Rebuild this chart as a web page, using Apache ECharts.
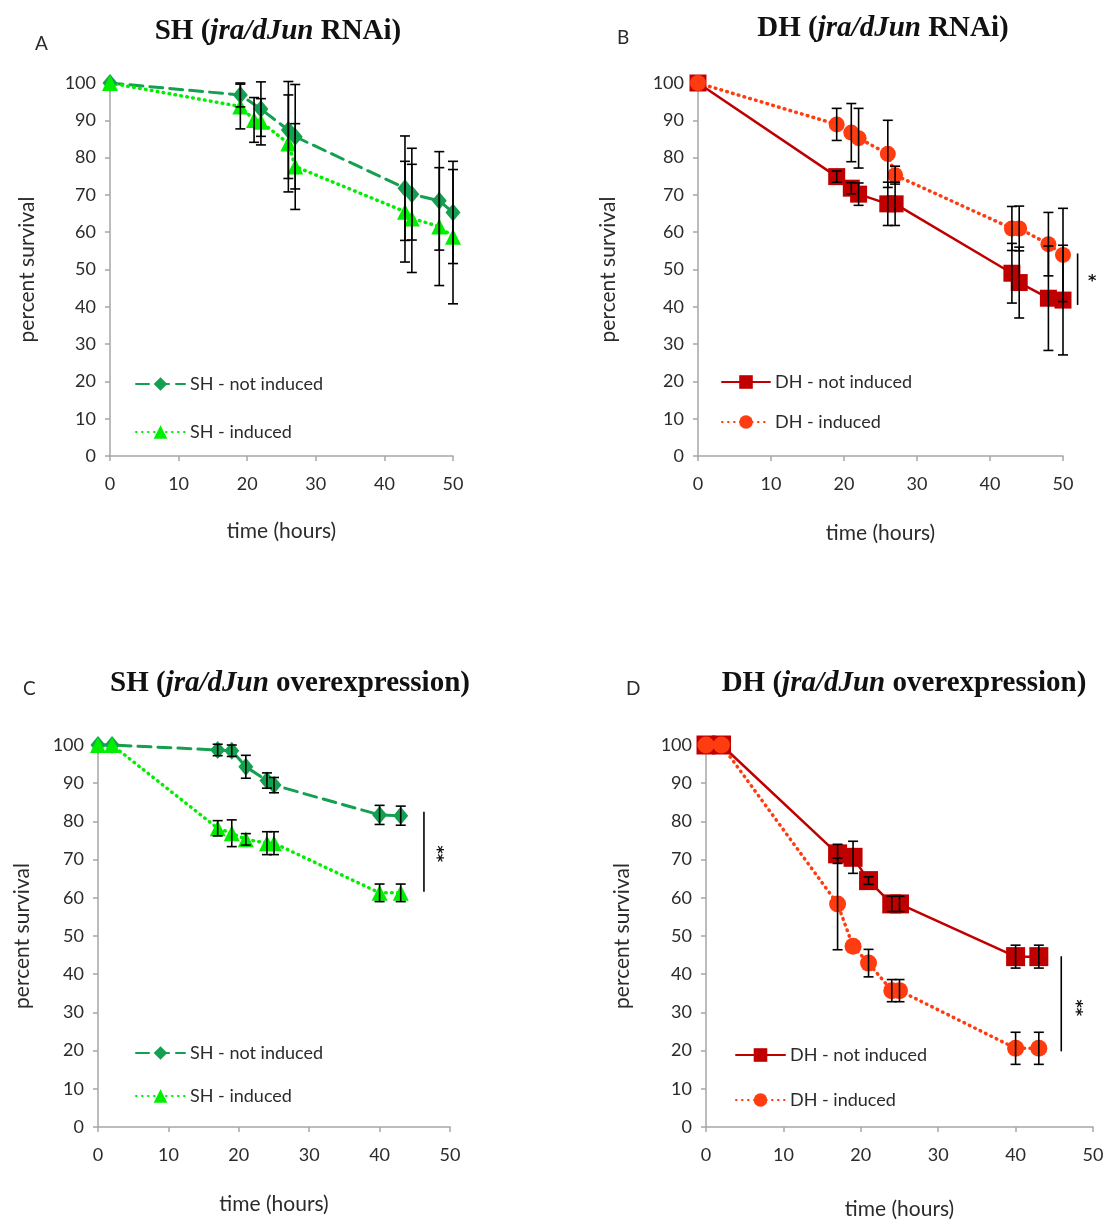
<!DOCTYPE html>
<html>
<head>
<meta charset="utf-8">
<script src="https://cdn.jsdelivr.net/npm/echarts@6/dist/echarts.min.js"></script>
<style>
html,body{margin:0;padding:0;background:#fff;}
#chart{width:1107px;height:1224px;}
</style>
</head>
<body>
<div id="chart"></div>
<script>
// ---------- DATA ----------
const xTicks = [0, 10, 20, 30, 40, 50];
const yTicks = [0, 10, 20, 30, 40, 50, 60, 70, 80, 90, 100];

// Panel A : SH (jra/dJun RNAi)
const A_ni_t   = [0, 19, 22, 26, 27, 43, 44, 48, 50];
const A_ni_v   = [100, 96.8, 93, 87.4, 85.6, 71.8, 70.2, 68.4, 65.3];
const A_ni_err = [0, 3.2, 7.3, 13, 14, 14, 12.3, 13.2, 13.7];
const A_in_t   = [0, 19, 21, 22, 26, 27, 43, 44, 48, 50];
const A_in_v   = [100, 93.7, 90.1, 89.6, 83.8, 77.6, 65.5, 63.7, 61.5, 58.8];
const A_in_err = [0, 6, 6, 6.2, 13, 11.5, 13.5, 14.5, 15.8, 18];

// Panel B : DH (jra/dJun RNAi)
const B_ni_t   = [0, 19, 21, 22, 26, 27, 43, 44, 48, 50];
const B_ni_v   = [100, 74.9, 71.8, 70.2, 67.6, 67.6, 49, 46.5, 42.3, 41.8];
const B_ni_err = [0, 1.5, 1.5, 3, 5.8, 5.8, 8, 9.5, 14, 14.7];
const B_in_t   = [0, 19, 21, 22, 26, 27, 43, 44, 48, 50];
const B_in_v   = [100, 88.9, 86.7, 85.2, 81, 75.3, 61, 61, 56.8, 53.9];
const B_in_err = [0, 4.3, 7.8, 8, 9, 2.4, 5.9, 6, 8.5, 12.5];
const B_sig    = [52.0, 40.5, 54.3];   // x, low, high
const B_sigLbl = [54.0, 46.6];

// Panel C : SH (jra/dJun overexpression)
const C_ni_t   = [0, 2, 17, 19, 21, 24, 25, 40, 43];
const C_ni_v   = [100, 100, 98.7, 98.5, 94.3, 90.7, 89.5, 81.7, 81.5];
const C_ni_err = [0, 0, 1.5, 1.5, 3, 2, 2, 2.5, 2.5];
const C_in_t   = [0, 2, 17, 19, 21, 24, 25, 40, 43];
const C_in_v   = [100, 100, 78.2, 76.9, 75.3, 74.3, 74.3, 61.3, 61.3];
const C_in_err = [0, 0, 2, 3.5, 1.5, 3, 3, 2.3, 2.3];
const C_sig    = [46.3, 61.6, 82.5];
const C_sigLbl = [48.1, 71.5];

// Panel D : DH (jra/dJun overexpression)
const D_ni_t   = [0, 2, 17, 19, 21, 24, 25, 40, 43];
const D_ni_v   = [100, 100, 71.5, 70.6, 64.5, 58.4, 58.4, 44.6, 44.6];
const D_ni_err = [0, 0, 2.5, 4.2, 1, 2, 2, 3, 3];
const D_in_t   = [0, 2, 17, 19, 21, 24, 25, 40, 43];
const D_in_v   = [100, 100, 58.4, 47.3, 42.9, 35.7, 35.7, 20.6, 20.6];
const D_in_err = [0, 0, 12, 0, 3.6, 2.9, 2.9, 4.2, 4.2];
const D_sig    = [45.9, 19.8, 44.7];
const D_sigLbl = [47.7, 31.2];

// ---------- STYLE ----------
const FONT = 'Lato, "Open Sans", sans-serif';
const TXT = '#2b2b2b';
const AXC = '#a6a6a6';
const darkGreen = '#14A050';
const limeGreen = '#00EE00';
const darkRed = '#C00000';
const orangeRed = '#FF3B10';
const DOT = [0.6, 5.4];
const DASH = [13, 7];

const panels = [
  {grid:{left:110, top:83, width:343, height:373}, yGap:72, xGap:65},
  {grid:{left:698, top:83, width:365, height:373}, yGap:79, xGap:67},
  {grid:{left:98, top:745, width:352, height:382}, yGap:65, xGap:67},
  {grid:{left:706, top:745, width:387, height:382}, yGap:73, xGap:72}
];

function zip(t, v, e) { return t.map((x, i) => e ? [x, v[i], e[i]] : [x, v[i]]); }

const grids = [], xAxes = [], yAxes = [], series = [];
panels.forEach((p, i) => {
  grids.push(Object.assign({}, p.grid));
  xAxes.push({
    gridIndex: i, type: 'value', min: xTicks[0], max: xTicks[xTicks.length-1], interval: 10,
    name: 'time (hours)', nameLocation: 'middle', nameGap: p.xGap,
    nameTextStyle: {fontFamily: FONT, fontSize: 21, color: TXT},
    axisLine: {show: true, lineStyle: {color: AXC, width: 1.5}},
    axisTick: {show: true, inside: false, length: 5, lineStyle: {color: AXC, width: 1.5}},
    axisLabel: {fontFamily: FONT, fontSize: 18, color: TXT, margin: 19},
    splitLine: {show: false}
  });
  yAxes.push({
    gridIndex: i, type: 'value', min: yTicks[0], max: yTicks[yTicks.length-1], interval: 10,
    name: 'percent survival', nameLocation: 'middle', nameGap: p.yGap,
    nameTextStyle: {fontFamily: FONT, fontSize: 21, color: TXT},
    axisLine: {show: true, lineStyle: {color: AXC, width: 1.5}},
    axisTick: {show: true, inside: false, length: 5, lineStyle: {color: AXC, width: 1.5}},
    axisLabel: {fontFamily: FONT, fontSize: 18, color: TXT, margin: 14},
    splitLine: {show: false}
  });
});

function lineSeries(name, idx, data, color, lineType, width, symbol, size) {
  return {
    name: name, type: 'line', xAxisIndex: idx, yAxisIndex: idx, data: data,
    symbol: symbol, symbolSize: size, showSymbol: true, clip: false,
    lineStyle: {color: color, width: width, type: lineType, cap: 'round'},
    itemStyle: {color: color}, z: 3, animation: false
  };
}
function errRender(params, api) {
  const t = api.value(0), v = api.value(1), e = api.value(2);
  if (!e) return {type: 'group', children: []};
  const a = api.coord([t, v + e]), b = api.coord([t, v - e]);
  const w = 5, st = {stroke: '#000', lineWidth: 1.6};
  return {type: 'group', children: [
    {type: 'line', shape: {x1: a[0], y1: a[1], x2: b[0], y2: b[1]}, style: st},
    {type: 'line', shape: {x1: a[0]-w, y1: a[1], x2: a[0]+w, y2: a[1]}, style: st},
    {type: 'line', shape: {x1: b[0]-w, y1: b[1], x2: b[0]+w, y2: b[1]}, style: st}
  ]};
}
function errSeries(idx, data, z) {
  return {type: 'custom', xAxisIndex: idx, yAxisIndex: idx, data: data, renderItem: errRender,
    encode: {x: 0, y: 1}, clip: false, z: z, silent: true, animation: false};
}
function sigSeries(idx, sig, lbl, text, rotate, fs) {
  return {type: 'custom', xAxisIndex: idx, yAxisIndex: idx, data: [[sig[0], sig[1], sig[2], lbl[0], lbl[1]]],
    encode: {x: 0, y: 1}, clip: false, z: 6, silent: true, animation: false,
    renderItem: function (params, api) {
      const a = api.coord([api.value(0), api.value(1)]);
      const b = api.coord([api.value(0), api.value(2)]);
      const c = api.coord([api.value(3), api.value(4)]);
      return {type: 'group', children: [
        {type: 'line', shape: {x1: a[0], y1: a[1], x2: b[0], y2: b[1]}, style: {stroke: '#000', lineWidth: 1.6}},
        {type: 'text', x: c[0], y: c[1], rotation: rotate, style: {text: text, fill: '#111', font: 'bold ' + fs + 'px "DejaVu Sans", sans-serif', align: 'center', verticalAlign: 'middle'}}
      ]};
    }};
}

// Panel A
series.push(lineSeries('SH - not induced', 0, zip(A_ni_t, A_ni_v), darkGreen, DASH, 3, 'diamond', [15, 18]));
series.push(lineSeries('SH - induced', 0, zip(A_in_t, A_in_v), limeGreen, DOT, 3.5, 'triangle', 16));
series.push(errSeries(0, zip(A_ni_t, A_ni_v, A_ni_err), 5));
series.push(errSeries(0, zip(A_in_t, A_in_v, A_in_err), 5));
// Panel B
series.push(lineSeries('DH - not induced', 1, zip(B_ni_t, B_ni_v), darkRed, 'solid', 2.5, 'rect', 17));
series.push(lineSeries('DH - induced', 1, zip(B_in_t, B_in_v), orangeRed, DOT, 3.5, 'circle', 16));
series.push(errSeries(1, zip(B_ni_t, B_ni_v, B_ni_err), 5));
series.push(errSeries(1, zip(B_in_t, B_in_v, B_in_err), 5));
series.push(sigSeries(1, B_sig, B_sigLbl, '*', 0, 16));
// Panel C
series.push(lineSeries('SH - not induced', 2, zip(C_ni_t, C_ni_v), darkGreen, DASH, 3, 'diamond', [15, 18]));
series.push(lineSeries('SH - induced', 2, zip(C_in_t, C_in_v), limeGreen, DOT, 3.5, 'triangle', 16));
series.push(errSeries(2, zip(C_ni_t, C_ni_v, C_ni_err), 5));
series.push(errSeries(2, zip(C_in_t, C_in_v, C_in_err), 5));
series.push(sigSeries(2, C_sig, C_sigLbl, '**', -Math.PI / 2, 16));
// Panel D
series.push(lineSeries('DH - not induced', 3, zip(D_ni_t, D_ni_v), darkRed, 'solid', 2.5, 'rect', 19));
series.push(lineSeries('DH - induced', 3, zip(D_in_t, D_in_v), orangeRed, DOT, 3.5, 'circle', 17));
series.push(errSeries(3, zip(D_ni_t, D_ni_v, D_ni_err), 5));
series.push(errSeries(3, zip(D_in_t, D_in_v, D_in_err), 5));
series.push(sigSeries(3, D_sig, D_sigLbl, '**', -Math.PI / 2, 16));

function legend(names, left, top, gap, w) {
  return {data: names, orient: 'vertical', left: left, top: top, itemGap: gap, itemWidth: w, itemHeight: 17,
    selectedMode: false,
    textStyle: {fontFamily: FONT, fontSize: 18, color: TXT, lineHeight: 20, padding: [0, 0, 0, 0]}};
}

const titleRich = {
  b: {fontFamily: '"Liberation Serif", "Times New Roman", serif', fontWeight: 'bold', fontSize: 29, color: '#111'},
  i: {fontFamily: '"Liberation Serif", "Times New Roman", serif', fontWeight: 'bold', fontStyle: 'italic', fontSize: 29, color: '#111'}
};
function title(text, cx, top) {
  return {text: text, left: cx, top: top, textAlign: 'center', textStyle: {rich: titleRich}};
}
function letter(t, left, top) {
  return {text: t, left: left, top: top, textStyle: {fontFamily: FONT, fontSize: 19, fontWeight: 'normal', color: TXT}};
}

const option = {
  backgroundColor: '#fff',
  animation: false,
  title: [
    title('{b|SH (}{i|jra/dJun}{b| RNAi)}', 273, 12),
    title('{b|DH (}{i|jra/dJun}{b| RNAi)}', 878, 9),
    title('{b|SH (}{i|jra/dJun}{b| overexpression)}', 285, 664),
    title('{b|DH (}{i|jra/dJun}{b| overexpression)}', 899, 664),
    letter('A', 30, 29), letter('B', 612, 23), letter('C', 18, 674), letter('D', 621, 674)
  ],
  legend: [
    legend(['SH - not induced', 'SH - induced'], 130, 369, 28, 49),
    legend(['DH - not induced', 'DH - induced'], 716, 367, 20, 48),
    legend(['SH - not induced', 'SH - induced'], 130, 1038, 23, 49),
    legend(['DH - not induced', 'DH - induced'], 730, 1040, 25, 49)
  ],
  grid: grids, xAxis: xAxes, yAxis: yAxes, series: series
};

const chart = echarts.init(document.getElementById('chart'), null, {renderer: 'canvas'});
chart.setOption(option);
</script>
</body>
</html>
